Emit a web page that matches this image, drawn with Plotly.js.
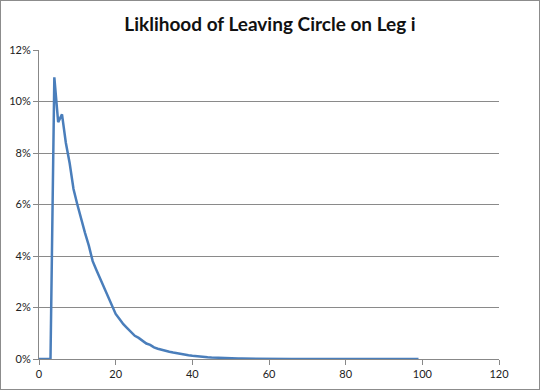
<!DOCTYPE html>
<html>
<head>
<meta charset="utf-8">
<script src="https://cdn.plot.ly/plotly-3.0.1.min.js"></script>
<style>
html,body{margin:0;padding:0;background:#fff;}
#chart{width:538px;height:388px;border:1px solid #8c8c8c;}
</style>
</head>
<body>
<div id="chart"></div>
<script>
// Leg index i
const legs = [];
for (let i = 0; i <= 99; i++) legs.push(i);
// Likelihood (percent)
const likelihoodPct = [
  0, 0, 0, 0, 10.94, 9.2, 9.5, 8.4, 7.6, 6.6,
  6.0, 5.4, 4.9, 4.4, 3.8, 3.45, 3.1, 2.75, 2.4, 2.05,
  1.75, 1.55, 1.35, 1.2, 1.05, 0.9, 0.82, 0.72, 0.6, 0.55,
  0.45, 0.4, 0.35, 0.31, 0.28, 0.25, 0.22, 0.19, 0.17, 0.15,
  0.13, 0.11, 0.09, 0.08, 0.07, 0.06, 0.05, 0.04, 0.035, 0.03,
  0.025, 0.02, 0.018, 0.015, 0.012, 0.01, 0.008, 0.007, 0.006, 0.005,
  0.004, 0.003, 0.003, 0.002, 0.002, 0.002, 0.001, 0.001, 0.001, 0.001,
  0, 0, 0, 0, 0, 0, 0, 0, 0, 0,
  0, 0, 0, 0, 0, 0, 0, 0, 0, 0,
  0, 0, 0, 0, 0, 0, 0, 0, 0, 0
];
const likelihood = likelihoodPct.map(v => v / 100);
const titleText = 'Liklihood of Leaving Circle on Leg i';
const xTicks = [0, 20, 40, 60, 80, 100, 120];
const yTicks = [0, 0.02, 0.04, 0.06, 0.08, 0.10, 0.12];
const yTickText = ['0%', '2%', '4%', '6%', '8%', '10%', '12%'];

const trace = {
  x: legs, y: likelihood, type: 'scatter', mode: 'lines',
  line: {color: '#4a7ebb', width: 2.5},
  hoverinfo: 'x+y'
};
const layout = {
  width: 538, height: 388,
  margin: {l: 38, r: 40, t: 49, b: 30},
  paper_bgcolor: '#ffffff', plot_bgcolor: '#ffffff',
  showlegend: false,
  font: {family: 'Lato, "Open Sans", sans-serif', color: '#222', size: 11},
  title: {text: titleText, font: {family: 'Lato, "Open Sans", sans-serif', size: 19, color: '#111', weight: 'bold'},
          x: 0.5, xanchor: 'center', y: 0.94, yanchor: 'middle'},
  xaxis: {range: [0, 120], tickvals: xTicks, ticktext: xTicks.map(String),
          showgrid: false, zeroline: false, showline: true, linecolor: '#888', linewidth: 1,
          ticks: 'outside', ticklen: 5, tickcolor: '#888', tickfont: {size: 11, color: '#222'}},
  yaxis: {range: [0, 0.12], tickvals: yTicks, ticktext: yTickText,
          showgrid: true, gridcolor: '#8a8a8a', gridwidth: 1, zeroline: false,
          showline: true, linecolor: '#888', linewidth: 1,
          ticks: 'outside', ticklen: 5, tickcolor: '#888', tickfont: {size: 11, color: '#222'}}
};
Plotly.newPlot('chart', [trace], layout, {displayModeBar: false, staticPlot: true});
</script>
</body>
</html>
